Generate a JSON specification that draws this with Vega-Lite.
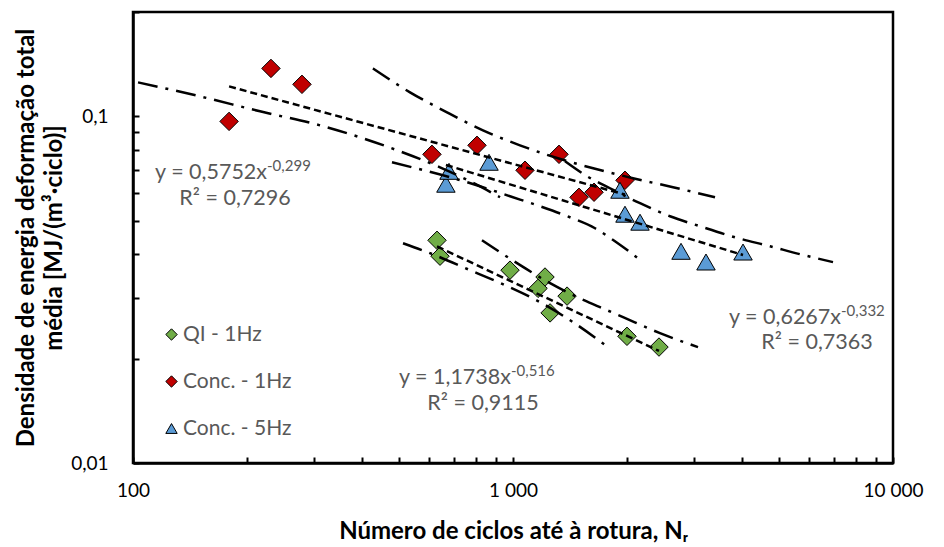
{
  "$schema": "https://vega.github.io/schema/vega-lite/v6.json",
  "width": 760,
  "height": 451,
  "autosize": {"type": "none"},
  "padding": {"left": 133, "top": 12, "right": 51, "bottom": 84},
  "background": "white",
  "config": {
    "view": {"stroke": "black", "strokeWidth": 2.5},
    "font": "Lato",
    "axis": {"labelFont": "Lato", "titleFont": "Lato", "grid": false}
  },
  "datasets": {
    "points": [
      {"series": "QI - 1Hz", "N": 631, "W": 0.0439},
      {"series": "QI - 1Hz", "N": 642.6, "W": 0.0395},
      {"series": "QI - 1Hz", "N": 982, "W": 0.036},
      {"series": "QI - 1Hz", "N": 1214, "W": 0.0344},
      {"series": "QI - 1Hz", "N": 1164, "W": 0.0319},
      {"series": "QI - 1Hz", "N": 1387.6, "W": 0.0303},
      {"series": "QI - 1Hz", "N": 1252, "W": 0.0271},
      {"series": "QI - 1Hz", "N": 1995, "W": 0.0232},
      {"series": "QI - 1Hz", "N": 2422, "W": 0.0216},
      {"series": "Conc. - 1Hz", "N": 179, "W": 0.0967},
      {"series": "Conc. - 1Hz", "N": 230.7, "W": 0.1375},
      {"series": "Conc. - 1Hz", "N": 278.4, "W": 0.1237},
      {"series": "Conc. - 1Hz", "N": 612, "W": 0.0777},
      {"series": "Conc. - 1Hz", "N": 804, "W": 0.0825},
      {"series": "Conc. - 1Hz", "N": 1075.5, "W": 0.0699},
      {"series": "Conc. - 1Hz", "N": 1321.6, "W": 0.0777},
      {"series": "Conc. - 1Hz", "N": 1491.6, "W": 0.0584},
      {"series": "Conc. - 1Hz", "N": 1634, "W": 0.0604},
      {"series": "Conc. - 1Hz", "N": 1971, "W": 0.0654},
      {"series": "Conc. - 5Hz", "N": 666, "W": 0.0637},
      {"series": "Conc. - 5Hz", "N": 678.6, "W": 0.0694},
      {"series": "Conc. - 5Hz", "N": 864.8, "W": 0.0737},
      {"series": "Conc. - 5Hz", "N": 1912, "W": 0.0612},
      {"series": "Conc. - 5Hz", "N": 1971, "W": 0.0522},
      {"series": "Conc. - 5Hz", "N": 2159, "W": 0.0495},
      {"series": "Conc. - 5Hz", "N": 2768, "W": 0.0408},
      {"series": "Conc. - 5Hz", "N": 3220, "W": 0.038},
      {"series": "Conc. - 5Hz", "N": 4030, "W": 0.0406}
    ],
    "lines": [
      {"line": "trend-red", "kind": "trend", "N": 179, "W": 0.122},
      {"line": "trend-red", "kind": "trend", "N": 1971, "W": 0.0595},
      {"line": "trend-blue", "kind": "trend", "N": 666, "W": 0.0724},
      {"line": "trend-blue", "kind": "trend", "N": 4030, "W": 0.03982},
      {"line": "trend-green", "kind": "trend", "N": 631, "W": 0.04215},
      {"line": "trend-green", "kind": "trend", "N": 2422, "W": 0.02105},

      {"line": "green-low", "kind": "band", "N": 513.5, "W": 0.04305},
      {"line": "green-low", "kind": "band", "N": 604.6, "W": 0.04029},
      {"line": "green-low", "kind": "band", "N": 761.1, "W": 0.03622},
      {"line": "green-low", "kind": "band", "N": 952.6, "W": 0.03258},
      {"line": "green-low", "kind": "band", "N": 1178, "W": 0.02911},
      {"line": "green-low", "kind": "band", "N": 1438.7, "W": 0.02548},
      {"line": "green-low", "kind": "band", "N": 1778, "W": 0.02159},

      {"line": "green-up", "kind": "band", "N": 828.6, "W": 0.04393},
      {"line": "green-up", "kind": "band", "N": 924.3, "W": 0.04056},
      {"line": "green-up", "kind": "band", "N": 1075.5, "W": 0.03648},
      {"line": "green-up", "kind": "band", "N": 1252, "W": 0.03301},
      {"line": "green-up", "kind": "band", "N": 1456.4, "W": 0.0303},
      {"line": "green-up", "kind": "band", "N": 1694, "W": 0.02816},
      {"line": "green-up", "kind": "band", "N": 1948, "W": 0.02634},
      {"line": "green-up", "kind": "band", "N": 2437, "W": 0.02369},
      {"line": "green-up", "kind": "band", "N": 3068, "W": 0.02159},

      {"line": "red-up", "kind": "band", "N": 428, "W": 0.1375},
      {"line": "red-up", "kind": "band", "N": 535.8, "W": 0.1173},
      {"line": "red-up", "kind": "band", "N": 670.3, "W": 0.1027},
      {"line": "red-up", "kind": "band", "N": 833.7, "W": 0.09113},
      {"line": "red-up", "kind": "band", "N": 1043, "W": 0.0825},
      {"line": "red-up", "kind": "band", "N": 1313, "W": 0.07568},
      {"line": "red-up", "kind": "band", "N": 1664, "W": 0.07036},
      {"line": "red-up", "kind": "band", "N": 2069, "W": 0.0663},
      {"line": "red-up", "kind": "band", "N": 2637, "W": 0.06245},
      {"line": "red-up", "kind": "band", "N": 3401, "W": 0.05843},

      {"line": "red-low", "kind": "band", "N": 103.1, "W": 0.1253},
      {"line": "red-low", "kind": "band", "N": 150.1, "W": 0.1142},
      {"line": "red-low", "kind": "band", "N": 215.9, "W": 0.1034},
      {"line": "red-low", "kind": "band", "N": 310.5, "W": 0.0942},
      {"line": "red-low", "kind": "band", "N": 395.7, "W": 0.087},
      {"line": "red-low", "kind": "band", "N": 504.2, "W": 0.07926},
      {"line": "red-low", "kind": "band", "N": 642.6, "W": 0.07129},
      {"line": "red-low", "kind": "band", "N": 770.3, "W": 0.06497},
      {"line": "red-low", "kind": "band", "N": 924.3, "W": 0.05843},

      {"line": "blue-up", "kind": "band", "N": 1370.6, "W": 0.07419},
      {"line": "blue-up", "kind": "band", "N": 1565.6, "W": 0.06718},
      {"line": "blue-up", "kind": "band", "N": 1800, "W": 0.06203},
      {"line": "blue-up", "kind": "band", "N": 2159, "W": 0.05615},
      {"line": "blue-up", "kind": "band", "N": 2589, "W": 0.05149},
      {"line": "blue-up", "kind": "band", "N": 3105, "W": 0.04819},
      {"line": "blue-up", "kind": "band", "N": 3838, "W": 0.04479},
      {"line": "blue-up", "kind": "band", "N": 4747, "W": 0.0422},
      {"line": "blue-up", "kind": "band", "N": 5691, "W": 0.04003},
      {"line": "blue-up", "kind": "band", "N": 6952, "W": 0.03797},

      {"line": "blue-low", "kind": "band", "N": 480.3, "W": 0.0737},
      {"line": "blue-low", "kind": "band", "N": 569.2, "W": 0.07036},
      {"line": "blue-low", "kind": "band", "N": 682.6, "W": 0.06674},
      {"line": "blue-low", "kind": "band", "N": 818.7, "W": 0.06286},
      {"line": "blue-low", "kind": "band", "N": 982, "W": 0.05882},
      {"line": "blue-low", "kind": "band", "N": 1178, "W": 0.05504},
      {"line": "blue-low", "kind": "band", "N": 1412.5, "W": 0.05115},
      {"line": "blue-low", "kind": "band", "N": 1644, "W": 0.04756},
      {"line": "blue-low", "kind": "band", "N": 1855, "W": 0.04362},
      {"line": "blue-low", "kind": "band", "N": 2198, "W": 0.03797}
    ],
    "labels": [
      {"role": "eq", "N": 225.3, "W": 0.06851, "text": "y = 0,5752x"},
      {"role": "exp", "N": 225.3, "W": 0.07178, "text": "-0,299"},
      {"role": "r2", "N": 185.5, "W": 0.05765, "text": "R² = 0,7296"},
      {"role": "eq", "N": 7298, "W": 0.02617, "text": "y = 0,6267x"},
      {"role": "exp", "N": 7298, "W": 0.02742, "text": "-0,332"},
      {"role": "r2", "N": 6310, "W": 0.02217, "text": "R² = 0,7363"},
      {"role": "eq", "N": 987.9, "W": 0.01758, "text": "y = 1,1738x"},
      {"role": "exp", "N": 987.9, "W": 0.01841, "text": "-0,516"},
      {"role": "r2", "N": 833.7, "W": 0.01479, "text": "R² = 0,9115"}
    ]
  },
  "layer": [
    {
      "data": {"name": "points"},
      "mark": {"type": "point", "filled": true, "stroke": "black", "strokeWidth": 1, "opacity": 1, "size": 340},
      "encoding": {
        "x": {
          "field": "N", "type": "quantitative",
          "scale": {"type": "log", "domain": [100, 10000], "nice": false},
          "axis": {
            "title": "Número de ciclos até à rotura, Nᵣ",
            "titleFontSize": 24, "titleFontWeight": "bold", "titleColor": "black", "titlePadding": 19,
            "values": [100, 200, 300, 400, 500, 600, 700, 800, 900, 1000, 2000, 3000, 4000, 5000, 6000, 7000, 8000, 9000, 10000],
            "labelExpr": "datum.value == 100 ? '100' : datum.value == 1000 ? '1 000' : datum.value == 10000 ? '10 000' : ''",
            "labelFontSize": 19, "labelColor": "black", "labelPadding": 24, "labelOverlap": false, "labelFlush": false,
            "tickSize": -6, "tickWidth": 2, "tickColor": "black",
            "domainColor": "black", "domainWidth": 2.5
          }
        },
        "y": {
          "field": "W", "type": "quantitative",
          "scale": {"type": "log", "domain": [0.01, 0.2], "nice": false},
          "axis": {
            "title": ["Densidade de energia deformação total", "média [MJ/(m³·ciclo)]"],
            "titleFontSize": 24, "titleFontWeight": "bold", "titleColor": "black", "titlePadding": 4, "titleLineHeight": 28,
            "values": [0.01, 0.02, 0.03, 0.04, 0.05, 0.06, 0.07, 0.08, 0.09, 0.1, 0.2],
            "labelExpr": "datum.value == 0.1 ? '0,1' : abs(datum.value - 0.01) < 0.0001 ? '0,01' : ''",
            "labelFontSize": 19, "labelColor": "black", "labelPadding": 31, "labelOverlap": false, "labelFlush": false,
            "tickSize": -6, "tickWidth": 2, "tickColor": "black",
            "domainColor": "black", "domainWidth": 2.5
          }
        },
        "fill": {
          "field": "series", "type": "nominal",
          "scale": {"domain": ["QI - 1Hz", "Conc. - 1Hz", "Conc. - 5Hz"], "range": ["#70AD47", "#C00000", "#5B9BD5"]},
          "legend": {
            "orient": "none", "legendX": 28, "legendY": 312, "title": null,
            "labelFontSize": 21, "labelColor": "#595959", "labelFont": "Lato",
            "symbolSize": 130, "symbolStrokeColor": "black", "symbolStrokeWidth": 1,
            "rowPadding": 25, "labelOffset": 1
          }
        },
        "shape": {
          "field": "series", "type": "nominal",
          "scale": {"domain": ["QI - 1Hz", "Conc. - 1Hz", "Conc. - 5Hz"], "range": ["diamond", "diamond", "triangle-up"]}
        }
      }
    },
    {
      "data": {"name": "lines"},
      "transform": [{"filter": "datum.kind == 'band'"}],
      "mark": {"type": "line", "color": "black", "strokeWidth": 2.5, "strokeDash": [20, 8, 3, 8], "interpolate": "monotone"},
      "encoding": {
        "x": {"field": "N", "type": "quantitative"},
        "y": {"field": "W", "type": "quantitative"},
        "detail": {"field": "line"}
      }
    },
    {
      "data": {"name": "lines"},
      "transform": [{"filter": "datum.kind == 'trend'"}],
      "mark": {"type": "line", "color": "black", "strokeWidth": 2.5, "strokeDash": [7, 4]},
      "encoding": {
        "x": {"field": "N", "type": "quantitative"},
        "y": {"field": "W", "type": "quantitative"},
        "detail": {"field": "line"}
      }
    },
    {
      "data": {"name": "labels"},
      "transform": [{"filter": "datum.role == 'eq'"}],
      "mark": {"type": "text", "align": "right", "baseline": "middle", "fontSize": 21.5, "color": "#595959", "font": "Lato"},
      "encoding": {
        "x": {"field": "N", "type": "quantitative"},
        "y": {"field": "W", "type": "quantitative"},
        "text": {"field": "text"}
      }
    },
    {
      "data": {"name": "labels"},
      "transform": [{"filter": "datum.role == 'exp'"}],
      "mark": {"type": "text", "align": "left", "baseline": "middle", "fontSize": 15, "color": "#595959", "font": "Lato"},
      "encoding": {
        "x": {"field": "N", "type": "quantitative"},
        "y": {"field": "W", "type": "quantitative"},
        "text": {"field": "text"}
      }
    },
    {
      "data": {"name": "labels"},
      "transform": [{"filter": "datum.role == 'r2'"}],
      "mark": {"type": "text", "align": "center", "baseline": "middle", "fontSize": 21.5, "color": "#595959", "font": "Lato"},
      "encoding": {
        "x": {"field": "N", "type": "quantitative"},
        "y": {"field": "W", "type": "quantitative"},
        "text": {"field": "text"}
      }
    }
  ]
}
